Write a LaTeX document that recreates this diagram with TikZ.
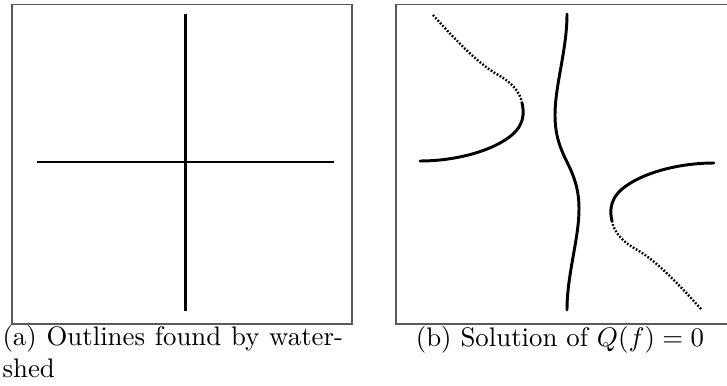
\documentclass[tikz,border=0pt]{standalone}
\begin{document}
\begin{tikzpicture}[x=0.373pt,y=-0.373pt,
  frameline/.style={draw=black!65,line width=0.5pt},
  curve/.style={line width=1.1pt,line cap=round,line join=round},
  dotcurve/.style={line width=0.9pt,dash pattern=on 0.65pt off 0.65pt},
  captext/.style={inner sep=0pt,font=\normalsize}]
\useasboundingbox (0,0) rectangle (727,385);
% left panel
\draw[frameline] (12,4.5) rectangle (352,324);
\coordinate (vt) at (185.5,14);
\coordinate (vb) at (185.5,311);
\coordinate (hl) at (37,162);
\coordinate (hr) at (334,162);
\draw[curve,line cap=butt] (vt) -- (vb);
\draw[curve,line cap=butt] (hl) -- (hr);
\node[captext,anchor=base west,text width=127pt,align=justify] (capa) at (2,345)
  {(a) Outlines found by water-\linebreak shed};
% right panel
\draw[frameline] (727,4.5) -- (396,4.5) -- (396,324) -- (727,324);
\coordinate (mt) at (567,14);
\coordinate (mc) at (567,162);
\coordinate (mb) at (567,310);
\draw[curve] (mt) .. controls (567,50) and (555,85) .. (555,115)
  .. controls (555,135) and (560,148) .. (mc)
  .. controls (574,176) and (579,189) .. (579,209)
  .. controls (579,239) and (567,274) .. (mb);
\foreach \r in {0,180}{
  \begin{scope}[rotate around={\r:(567,162)}]
  \draw[dotcurve] (433,15) .. controls (460,45) and (480,65) .. (500,76)
    .. controls (512,83) and (520,92) .. (522,103);
  \draw[curve] (522,103) .. controls (526,120) and (520,132) .. (500,143)
    .. controls (480,154) and (450,161) .. (420,161);
  \end{scope}
}
\node[captext,anchor=base] (capb) at (560,346) {(b) Solution of $Q(f)=0$};
\end{tikzpicture}
\end{document}
